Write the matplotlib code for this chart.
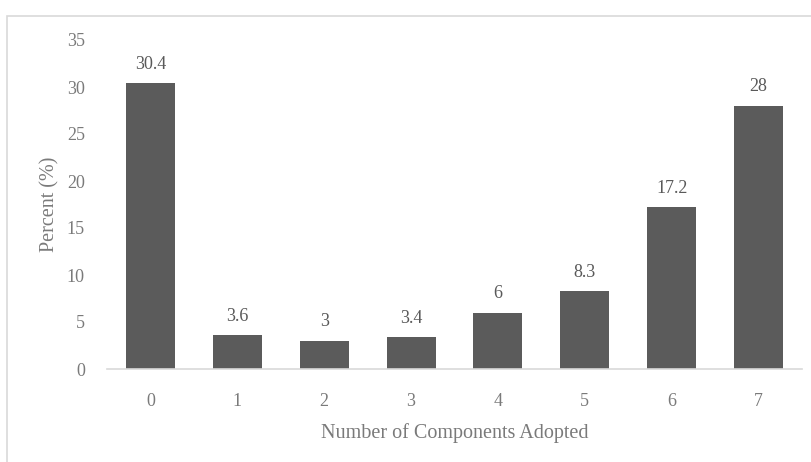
import matplotlib.pyplot as plt
from matplotlib.patches import Rectangle

# data
components = ["0", "1", "2", "3", "4", "5", "6", "7"]
percent = [30.4, 3.6, 3.0, 3.4, 6.0, 8.3, 17.2, 28.0]
value_labels = ["30.4", "3.6", "3", "3.4", "6", "8.3", "17.2", "28"]

plt.rcParams["font.family"] = ["Liberation Serif", "DejaVu Serif"]

bar_color = "#5b5b5b"
text_color = "#595959"
tick_color = "#7a7a7a"

fig = plt.figure(figsize=(8.12, 4.62), dpi=100)
ax = fig.add_axes([107 / 812, 1 - 369 / 462, 695 / 812, 329 / 462])

# chart border (light gray, cropped at right/bottom in the reference)
fig.patches.append(Rectangle((7 / 812, -0.5), 2.0, 1.5 - 16 / 462,
                             transform=fig.transFigure, fill=False,
                             edgecolor="#d9d9d9", linewidth=1.2))

x = range(len(components))
bars = ax.bar(x, percent, width=0.565, color=bar_color, zorder=2)

for b, lab in zip(bars, value_labels):
    ax.text(b.get_x() + b.get_width() / 2, b.get_height() + 1.1, lab,
            ha="center", va="bottom", fontsize=13, color=text_color)

ax.set_xlim(-0.5, 7.5)
ax.set_ylim(0, 35)
ax.set_yticks(range(0, 36, 5))
ax.set_xticks(list(x))
ax.set_xticklabels(components)

for s in ["top", "right", "left"]:
    ax.spines[s].set_visible(False)
ax.spines["bottom"].set_color("#d9d9d9")
ax.spines["bottom"].set_linewidth(1.2)

ax.tick_params(axis="both", length=0, labelsize=13, labelcolor=tick_color)
ax.tick_params(axis="y", pad=16)
ax.tick_params(axis="x", pad=17)

ax.set_xlabel("Number of Components Adopted", fontsize=14.5, color=tick_color,
              labelpad=10)
ax.set_ylabel("Percent (%)", fontsize=14.5, color=tick_color, labelpad=5)

fig.savefig("out.png", dpi=100)
